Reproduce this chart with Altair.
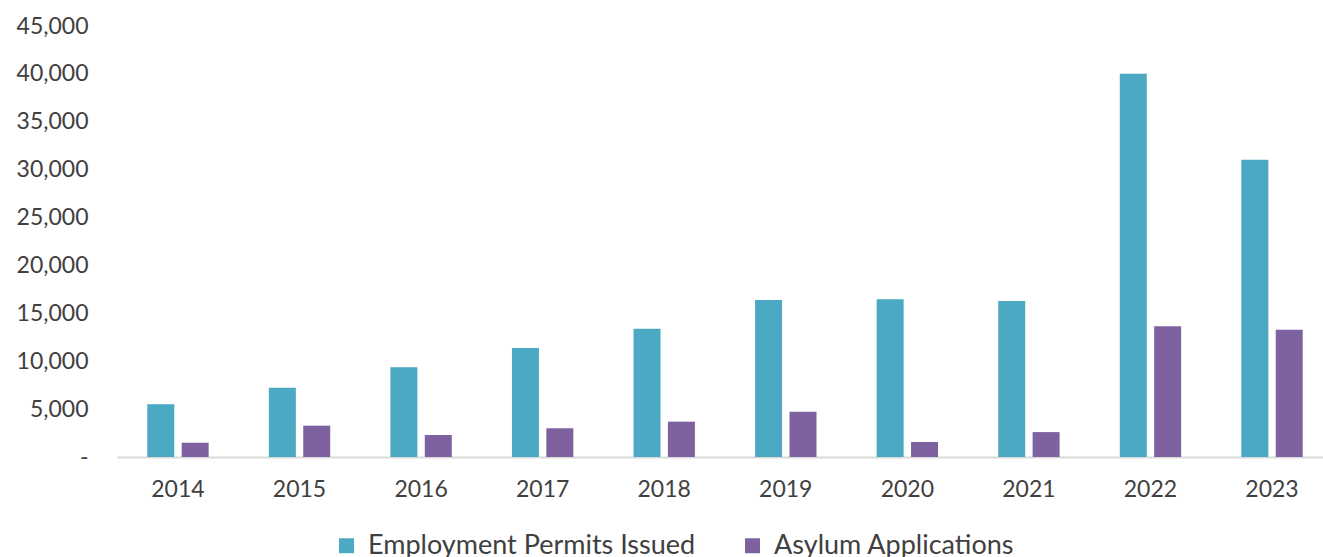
import altair as alt
import pandas as pd

years = ["2014", "2015", "2016", "2017", "2018", "2019", "2020", "2021", "2022", "2023"]
permits = [5500, 7230, 9360, 11380, 13390, 16390, 16460, 16280, 40010, 31030]
asylum = [1490, 3270, 2300, 3000, 3690, 4730, 1570, 2600, 13640, 13290]
series = ["Employment Permits Issued", "Asylum Applications"]
colors = ["#4BA9C3", "#7E62A0"]

rows = []
for y, p, a in zip(years, permits, asylum):
    rows.append({"Year": y, "Series": series[0], "Value": p})
    rows.append({"Year": y, "Series": series[1], "Value": a})
df = pd.DataFrame(rows)

FONT = "Lato"
TXT = "#404040"

chart = alt.Chart(df).mark_bar().encode(
    x=alt.X("Year:N", sort=years, title=None,
            scale=alt.Scale(paddingInner=0.495, paddingOuter=0.249, range=[0, 1216]),
            axis=alt.Axis(labelAngle=0, ticks=False, domainColor="#d9d9d9", domainWidth=2,
                          labelFont=FONT, labelFontSize=23, labelColor=TXT, labelPadding=21,
                          grid=False)),
    xOffset=alt.XOffset("Series:N", sort=series, scale=alt.Scale(paddingInner=0.215)),
    y=alt.Y("Value:Q", title=None,
            scale=alt.Scale(domain=[0, 45000], nice=False),
            axis=alt.Axis(values=list(range(0, 45001, 5000)), format=",.0f",
                          labelExpr="datum.value == 0 ? '-\u00a0\u00a0\u00a0' : datum.label",
                          ticks=False, domain=False, grid=False,
                          labelFont=FONT, labelFontSize=23, labelColor=TXT, labelPadding=29)),
    color=alt.Color("Series:N", sort=series,
                    scale=alt.Scale(domain=series, range=colors),
                    legend=alt.Legend(title=None, orient="none", direction="horizontal",
                                      legendX=216, legendY=506, labelLimit=0,
                                      symbolType="square", symbolSize=225, symbolStrokeWidth=0,
                                      labelFont=FONT, labelFontSize=27, labelColor=TXT,
                                      labelOffset=8, columnPadding=43)),
).properties(
    width=1203, height=431,
    autosize=alt.AutoSizeParams(type="none"),
    padding={"left": 117, "top": 26, "right": 3, "bottom": 100},
).configure_view(stroke=None)

chart.save("out.html", embed_options={"renderer": "svg", "actions": False})
